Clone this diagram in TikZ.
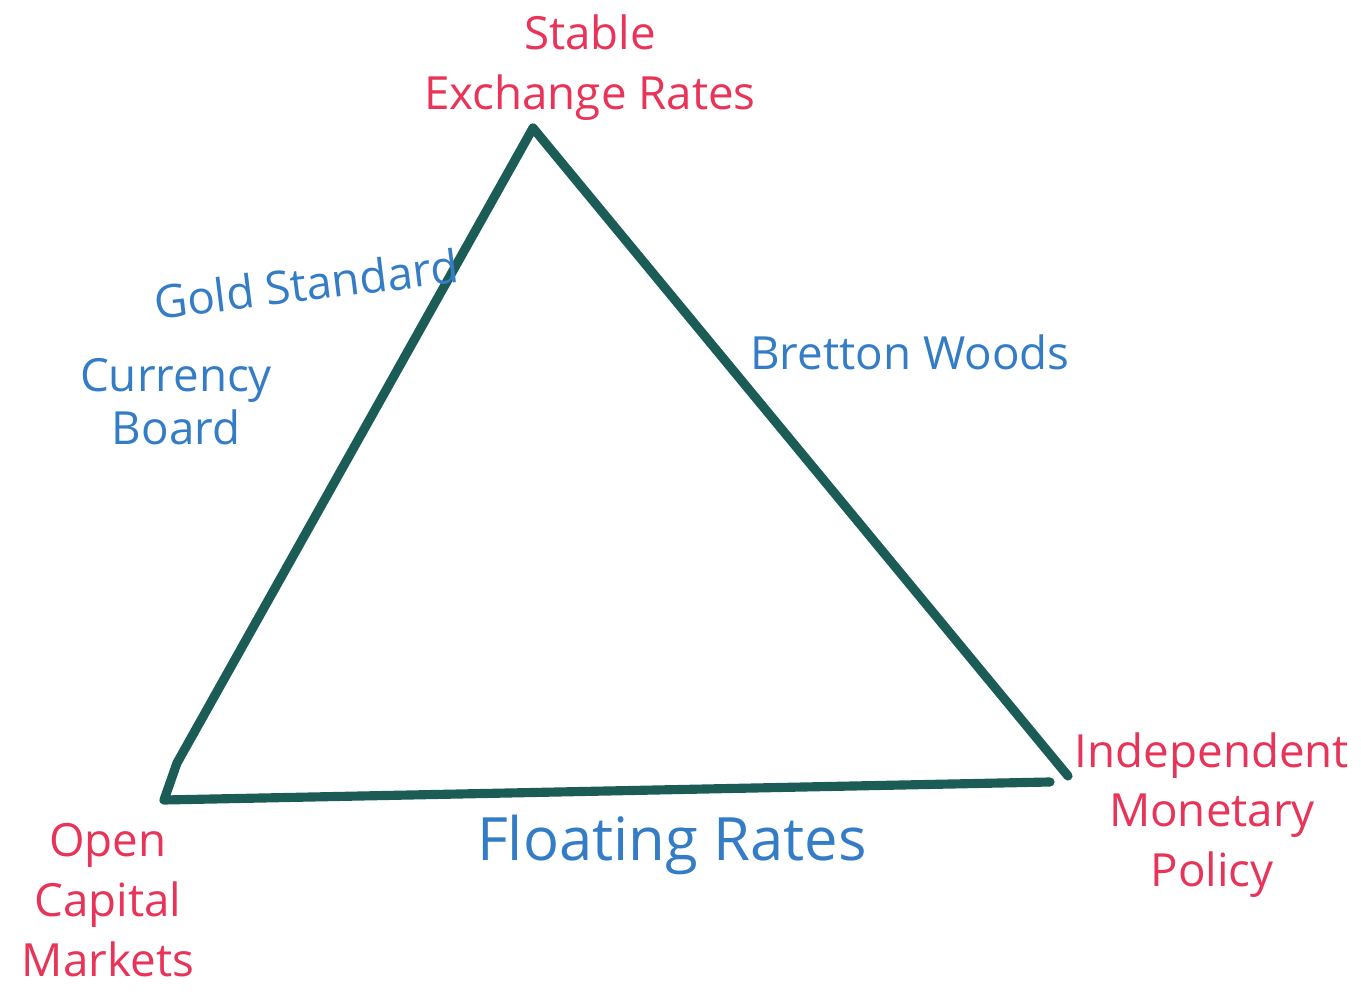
\documentclass[tikz,border=0pt]{standalone}
\usepackage{fontspec}
\setmainfont{Open Sans}
\usetikzlibrary{positioning}
\definecolor{markerred}{RGB}{232,52,88}
\definecolor{markerblue}{RGB}{52,124,198}
\definecolor{markerteal}{RGB}{28,92,86}

\begin{document}
\begin{tikzpicture}[x=0.01cm, y=-0.01cm,
    goal/.style={text=markerred, font=\fontsize{13}{17}\selectfont, align=center},
    regime/.style={text=markerblue, font=\fontsize{13}{15}\selectfont, align=center},
    side/.style={draw=markerteal, line width=2.6pt, line cap=round, line join=round}]
   \useasboundingbox (0,0) rectangle (1361,995);

   % corners of the trilemma
   \coordinate (apex) at (533,128);
   \coordinate (kink) at (177,763);
   \coordinate (left) at (164,800);
   \coordinate (right) at (1050,782);
   \coordinate (tail) at (1068,776);

   \draw[side] (right) -- (left) -- (kink) -- (apex) -- (tail);

   % the three goals
   \node[goal] (stable) at (590,68) {Stable\\Exchange Rates};
   \node[goal] (capital) at (108,900) {Open\\Capital\\Markets};
   \node[goal] (policy) at (1212,815) {Independent\\Monetary\\Policy};

   % regimes along the sides
   \node[regime, rotate=7] (gold) at (306,284) {Gold Standard};
   \node[regime] (board) at (176,402) {Currency\\Board};
   \node[regime] (bretton) at (910,352) {Bretton Woods};
   \node[regime, font=\fontsize{17}{19}\selectfont] (floating) at (672,845) {Floating Rates};
\end{tikzpicture}
\end{document}
